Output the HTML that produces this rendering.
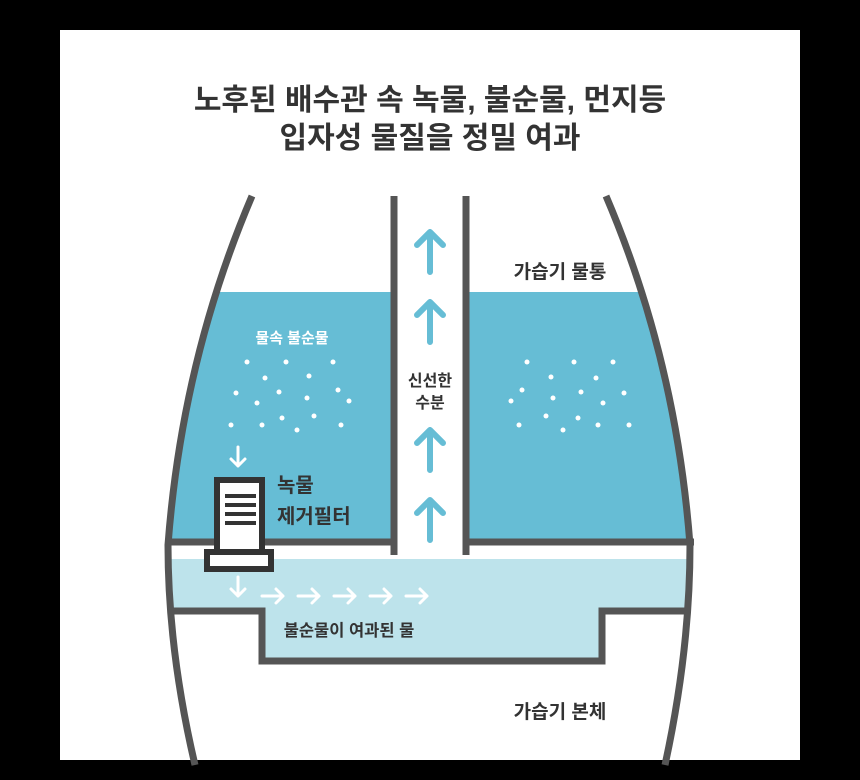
<!DOCTYPE html>
<html><head><meta charset="utf-8"><style>
body{margin:0;background:#000;}
svg{display:block;}
text{font-family:"Liberation Sans","Noto Sans CJK KR",sans-serif;}
</style></head><body>
<svg width="860" height="780" viewBox="0 0 860 780" xmlns="http://www.w3.org/2000/svg">
<rect x="0" y="0" width="860" height="780" fill="#000"/>
<rect x="60" y="30" width="740" height="730" fill="#fff"/>
<text x="430" y="110" text-anchor="middle" font-size="30" font-weight="bold" fill="#333">노후된 배수관 속 녹물, 불순물, 먼지등</text>
<text x="430" y="148" text-anchor="middle" font-size="30" font-weight="bold" fill="#333">입자성 물질을 정밀 여과</text>
<path d="M217,292 L392,292 L392,541 L170,541 Q177,400 217,292 Z" fill="#66bdd5"/>
<path d="M467,292 L641,292 Q681,400 689,541 L467,541 Z" fill="#66bdd5"/>
<path d="M170,559 L689,559 L687,609 L603,609 L603,660 L261,660 L261,609 L172,609 Z" fill="#bde3eb"/>
<g stroke="#555" stroke-width="7" fill="none">
<path d="M252,196 Q182,360 168,545 Q168,650 195,765"/>
<path d="M606,196 Q676,360 690,545 Q690,650 665,765"/>
<line x1="166" y1="542" x2="397" y2="542"/>
<line x1="463" y1="542" x2="694" y2="542"/>
<line x1="394" y1="196" x2="394" y2="555"/>
<line x1="466" y1="196" x2="466" y2="555"/>
<path d="M172,611 L262,611 L262,661 L602,661 L602,611 L688,611"/>
</g>
<g stroke="#66bdd5" stroke-width="6" fill="none" stroke-linecap="round" stroke-linejoin="round">
<path d="M430,272 L430,232 M417,245 L430,232 L443,245"/>
<path d="M430,342 L430,302 M417,315 L430,302 L443,315"/>
<path d="M430,470 L430,430 M417,443 L430,430 L443,443"/>
<path d="M430,540 L430,500 M417,513 L430,500 L443,513"/>
</g>
<text x="430" y="386" text-anchor="middle" font-size="16" font-weight="bold" fill="#333">신선한</text>
<text x="430" y="408" text-anchor="middle" font-size="16" font-weight="bold" fill="#333">수분</text>
<text x="560" y="278" text-anchor="middle" font-size="19" font-weight="bold" fill="#333">가습기 물통</text>
<text x="292" y="343" text-anchor="middle" font-size="15" font-weight="bold" fill="#fff">물속 불순물</text>
<g fill="#fff">
<circle cx="247" cy="362" r="2.5"/><circle cx="286" cy="362" r="2.5"/><circle cx="333" cy="362" r="2.5"/>
<circle cx="265" cy="378" r="2.5"/><circle cx="309" cy="376" r="2.5"/>
<circle cx="236" cy="393" r="2.5"/><circle cx="279" cy="392" r="2.5"/><circle cx="338" cy="390" r="2.5"/>
<circle cx="257" cy="403" r="2.5"/><circle cx="307" cy="398" r="2.5"/><circle cx="349" cy="401" r="2.5"/>
<circle cx="282" cy="418" r="2.5"/><circle cx="314" cy="416" r="2.5"/>
<circle cx="231" cy="425" r="2.5"/><circle cx="262" cy="425" r="2.5"/><circle cx="297" cy="430" r="2.5"/><circle cx="341" cy="425" r="2.5"/>
<circle cx="527" cy="362" r="2.5"/><circle cx="574" cy="362" r="2.5"/><circle cx="613" cy="362" r="2.5"/>
<circle cx="551" cy="377" r="2.5"/><circle cx="596" cy="378" r="2.5"/>
<circle cx="522" cy="390" r="2.5"/><circle cx="581" cy="392" r="2.5"/><circle cx="624" cy="393" r="2.5"/>
<circle cx="511" cy="401" r="2.5"/><circle cx="553" cy="398" r="2.5"/><circle cx="603" cy="403" r="2.5"/>
<circle cx="546" cy="416" r="2.5"/><circle cx="578" cy="418" r="2.5"/>
<circle cx="519" cy="425" r="2.5"/><circle cx="563" cy="430" r="2.5"/><circle cx="598" cy="425" r="2.5"/><circle cx="629" cy="425" r="2.5"/>
</g>
<g stroke="#fff" stroke-width="3" fill="none" stroke-linecap="round" stroke-linejoin="round">
<path d="M238,447 L238,466 M231,459 L238,466 L245,459"/>
<path d="M238,577 L238,596 M231,589 L238,596 L245,589"/>
<path d="M262,596 L283,596 M276,589 L283,596 L276,603"/>
<path d="M298,596 L319,596 M312,589 L319,596 L312,603"/>
<path d="M334,596 L355,596 M348,589 L355,596 L348,603"/>
<path d="M370,596 L391,596 M384,589 L391,596 L384,603"/>
<path d="M406,596 L427,596 M420,589 L427,596 L420,603"/>
</g>
<rect x="217" y="480" width="45" height="75" fill="#fff" stroke="#333" stroke-width="6"/>
<g stroke="#333" stroke-width="4"><line x1="225" y1="496" x2="256" y2="496"/><line x1="225" y1="505" x2="256" y2="505"/><line x1="225" y1="514" x2="256" y2="514"/><line x1="225" y1="523" x2="256" y2="523"/></g>
<rect x="207" y="552" width="64" height="17" fill="#fff" stroke="#333" stroke-width="6"/>
<text x="277" y="492" font-size="20" font-weight="bold" fill="#333">녹물</text>
<text x="277" y="523" font-size="20" font-weight="bold" fill="#333">제거필터</text>
<text x="349" y="636" text-anchor="middle" font-size="16.5" font-weight="bold" fill="#333">불순물이 여과된 물</text>
<text x="560" y="718" text-anchor="middle" font-size="19" font-weight="bold" fill="#333">가습기 본체</text>
</svg>
</body></html>
